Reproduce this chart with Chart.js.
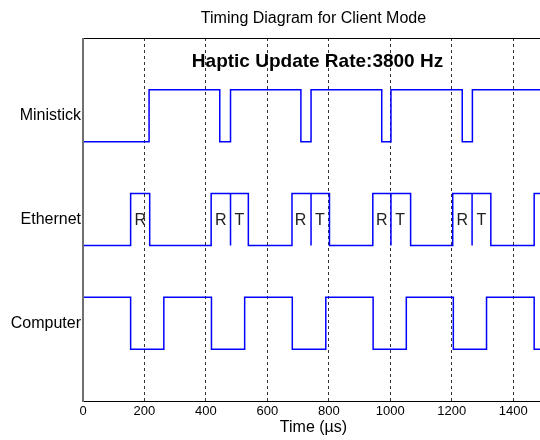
<!DOCTYPE html>
<html>
<head>
<meta charset="utf-8">
<script src="https://cdn.jsdelivr.net/npm/chart.js@4/dist/chart.umd.min.js"></script>
<style>
html,body{margin:0;padding:0;background:#fff;overflow:hidden;width:540px;height:440px;}
canvas{display:block;}
</style>
</head>
<body>
<canvas id="c" width="600" height="440"></canvas>
<script>
// ---- data (µs) ----
const signalNames = ['Computer', 'Ethernet', 'Ministick'];
const ministickTimes  = [0, 215, 445, 480, 709, 742, 972, 1002, 1234, 1267];
const ministickStates = [0, 1,   0,   1,   0,   1,   0,   1,    0,    1];
const ethernetTimes  = [0, 155, 217, 417, 480, 480, 538, 680, 742, 742, 802, 943, 1002, 1002, 1066, 1203, 1266, 1266, 1327, 1468];
const ethernetStates = [0, 1,   0,   1,   0,   1,   0,   1,   0,   1,   0,   1,   0,    1,    0,    1,    0,    1,    0,    1];
const computerTimes  = [0, 155, 263, 418, 526, 681, 790, 944, 1052, 1205, 1313, 1468];
const computerStates = [1, 0,   1,   0,   1,   0,   1,   0,   1,    0,    1,    0];
const packetLabels     = ['R', 'R', 'T', 'R', 'T', 'R', 'T', 'R', 'T'];
const packetLabelTimes = [186, 448, 509, 708, 771, 972, 1032, 1234, 1296];
const xTickValues = [0, 200, 400, 600, 800, 1000, 1200, 1400];
const xMin = 0, xMax = 1500;
const chartTitle = 'Timing Diagram for Client Mode';
const annotationText = 'Haptic Update Rate:3800 Hz';
const xAxisTitle = 'Time (\u00b5s)';

function buildPoints(times, states, base) {
  const pts = times.map((t, i) => ({x: t, y: base + (states[i] - 0.5) * 0.5}));
  pts.push({x: xMax, y: base + (states[states.length - 1] - 0.5) * 0.5});
  return pts;
}

const FONT = "'Liberation Sans', Arial, sans-serif";

const textPlugin = {
  id: 'texts',
  afterDraw(chart) {
    const ctx = chart.ctx, a = chart.chartArea;
    const xs = chart.scales.x, ys = chart.scales.y;
    ctx.save();
    ctx.strokeStyle = '#000'; ctx.lineWidth = 1;
    ctx.beginPath();
    ctx.moveTo(a.left, a.top + 0.5); ctx.lineTo(a.right, a.top + 0.5);
    ctx.moveTo(a.left, a.bottom + 0.5); ctx.lineTo(a.right, a.bottom + 0.5);
    ctx.stroke();
    ctx.strokeStyle = '#707070'; ctx.lineWidth = 2;
    ctx.beginPath(); ctx.moveTo(a.left, a.top); ctx.lineTo(a.left, a.bottom + 1); ctx.stroke();
    const cx = (a.left + a.right) / 2;
    ctx.fillStyle = '#000';
    ctx.textAlign = 'center'; ctx.textBaseline = 'middle';
    ctx.font = '16px ' + FONT;
    ctx.fillText(chartTitle, cx, 19);
    ctx.fillText(xAxisTitle, cx, 428);
    ctx.font = 'bold 19px ' + FONT;
    ctx.fillText(annotationText, cx + 4, 62);
    ctx.font = '16px ' + FONT;
    ctx.fillStyle = '#222';
    const yEth = ys.getPixelForValue(2);
    packetLabels.forEach((s, i) => {
      ctx.fillText(s, xs.getPixelForValue(packetLabelTimes[i]), yEth + 1);
    });
    ctx.restore();
  }
};

const lineStyle = {borderColor: '#0000ff', borderWidth: 1.5, pointRadius: 0, stepped: 'before', fill: false, tension: 0};

new Chart(document.getElementById('c'), {
  type: 'line',
  data: {
    datasets: [
      Object.assign({label: 'Ministick', data: buildPoints(ministickTimes, ministickStates, 3)}, lineStyle),
      Object.assign({label: 'Ethernet',  data: buildPoints(ethernetTimes, ethernetStates, 2)}, lineStyle),
      Object.assign({label: 'Computer',  data: buildPoints(computerTimes, computerStates, 1)}, lineStyle)
    ]
  },
  options: {
    responsive: false,
    animation: false,
    layout: {padding: {top: 38, right: 56, left: 0, bottom: 0}},
    plugins: {legend: {display: false}, tooltip: {enabled: false}, title: {display: false}},
    scales: {
      x: {
        type: 'linear', min: xMin, max: xMax,
        afterBuildTicks: s => { s.ticks = xTickValues.map(v => ({value: v})); },
        afterFit: s => { s.height = 39; },
        grid: {
          drawTicks: false,
          color: c => (c.tick && c.tick.value > 0) ? '#333' : 'rgba(0,0,0,0)',
          lineWidth: 1
        },
        border: {display: false, dash: [3, 3]},
        ticks: {font: {family: FONT, size: 13}, color: '#000', padding: 3, maxRotation: 0, autoSkip: false,
                callback: v => String(v)}
      },
      y: {
        type: 'linear', min: 0.25, max: 3.75,
        afterBuildTicks: s => { s.ticks = [1, 2, 3].map(v => ({value: v})); },
        afterFit: s => { s.width = 83; },
        grid: {display: false, drawTicks: false},
        border: {display: false},
        ticks: {
          font: {family: FONT, size: 16}, color: '#000', padding: 2,
          callback: v => signalNames[v - 1]
        }
      }
    }
  },
  plugins: [textPlugin]
});
</script>
</body>
</html>
